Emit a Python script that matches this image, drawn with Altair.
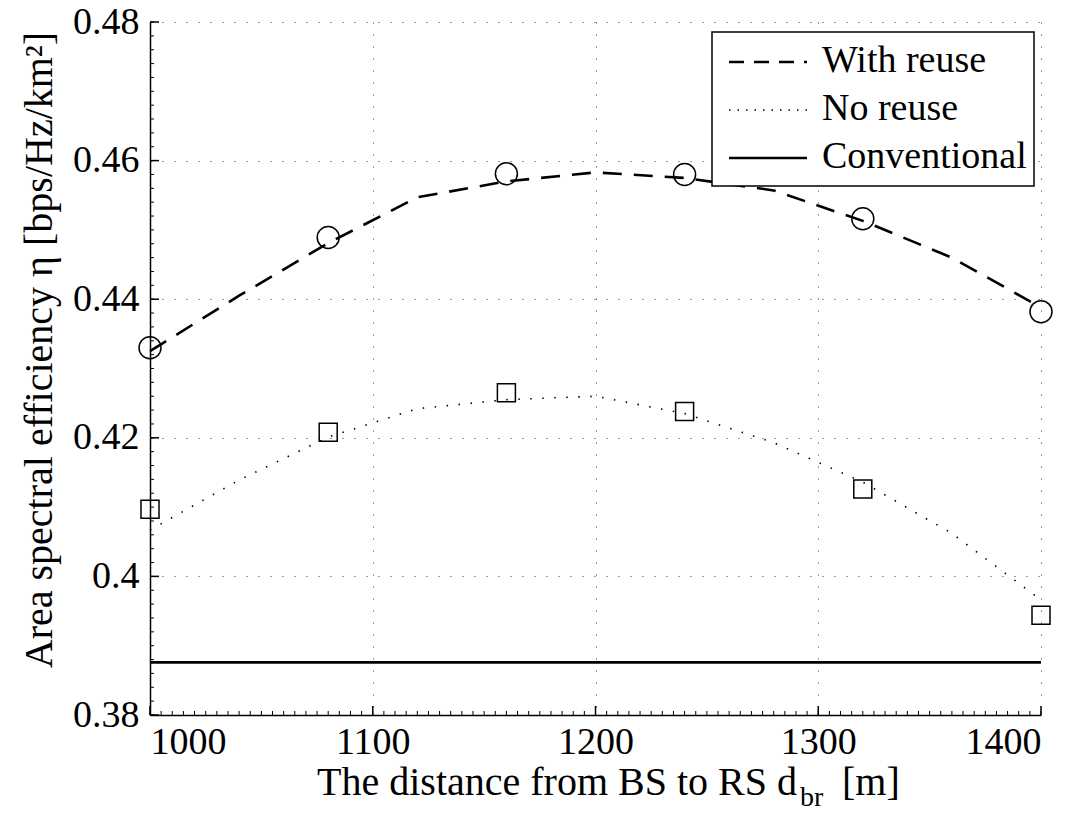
import altair as alt
import pandas as pd

# ---- data ----
curve_x = [1000, 1040, 1080, 1120, 1160, 1200, 1240, 1280, 1320, 1360, 1400]
with_reuse_curve = [0.4325, 0.4405, 0.4481, 0.4547, 0.4570, 0.4583, 0.4575, 0.4557, 0.4513, 0.4460, 0.4388]
no_reuse_curve = [0.4067, 0.4139, 0.4201, 0.4242, 0.4255, 0.4260, 0.4235, 0.4193, 0.4136, 0.4062, 0.3966]

marker_x = [1000, 1080, 1160, 1240, 1320, 1400]
with_reuse_markers = [0.4330, 0.4489, 0.4581, 0.4580, 0.4516, 0.4382]
no_reuse_markers = [0.4097, 0.4208, 0.4265, 0.4238, 0.4126, 0.3944]

conventional_x = [1000, 1400]
conventional_y = [0.3876, 0.3876]

x_ticks = [1000, 1100, 1200, 1300, 1400]
y_ticks = [0.38, 0.40, 0.42, 0.44, 0.46, 0.48]
x_minor = [1000 + 5 * i for i in range(81)]
y_minor = [round(0.38 + 0.002 * i, 4) for i in range(51)]

legend_labels = ["With reuse", "No reuse", "Conventional"]

FONT = "'Liberation Serif', 'Times New Roman', Times, 'DejaVu Serif', serif"
W, H = 891, 693

xs = alt.Scale(domain=[1000, 1400], nice=False, zero=False)
ys = alt.Scale(domain=[0.38, 0.48], nice=False, zero=False)

df_wr = pd.DataFrame({"x": curve_x, "y": with_reuse_curve})
df_nr = pd.DataFrame({"x": curve_x, "y": no_reuse_curve})
df_wrm = pd.DataFrame({"x": marker_x, "y": with_reuse_markers})
df_nrm = pd.DataFrame({"x": marker_x, "y": no_reuse_markers})
df_conv = pd.DataFrame({"x": conventional_x, "y": conventional_y})

X = alt.X("x:Q", scale=xs, axis=alt.Axis(values=x_ticks, format="d", title=None,
                                          grid=True, ticks=False, labelPadding=8))
Y = alt.Y("y:Q", scale=ys, axis=alt.Axis(values=y_ticks, format="~g", title=None,
                                          grid=True, ticks=False, labelPadding=11))

line_wr = alt.Chart(df_wr).mark_line(color="black", strokeWidth=2.6, strokeDash=[19, 12]).encode(x=X, y=Y)
line_nr = alt.Chart(df_nr).mark_line(color="black", strokeWidth=1.6, strokeDash=[1.5, 10.5]).encode(x=X, y=Y)
line_conv = alt.Chart(df_conv).mark_line(color="black", strokeWidth=2.6).encode(x=X, y=Y)

pts_wr = alt.Chart(df_wrm).mark_point(shape="circle", size=484, color="black", filled=False,
                                      strokeWidth=1.5, opacity=1).encode(x=X, y=Y)
pts_nr = alt.Chart(df_nrm).mark_point(shape="square", size=324, color="black", filled=False,
                                      strokeWidth=1.5, opacity=1).encode(x=X, y=Y)

# inward ticks (MATLAB style)
xt = alt.Chart(pd.DataFrame({"x": x_ticks})).mark_rule(color="black", strokeWidth=1.5).encode(
    x=alt.X("x:Q", scale=xs), y=alt.value(H), y2=alt.value(H - 9))
yt = alt.Chart(pd.DataFrame({"y": y_ticks})).mark_rule(color="black", strokeWidth=1.5).encode(
    y=alt.Y("y:Q", scale=ys), x=alt.value(0), x2=alt.value(9))
xm = alt.Chart(pd.DataFrame({"x": x_minor})).mark_rule(color="black", strokeWidth=1).encode(
    x=alt.X("x:Q", scale=xs), y=alt.value(H), y2=alt.value(H - 4))
ym = alt.Chart(pd.DataFrame({"y": y_minor})).mark_rule(color="black", strokeWidth=1).encode(
    y=alt.Y("y:Q", scale=ys), x=alt.value(0), x2=alt.value(4))

# axis titles
one = pd.DataFrame({"a": [0]})
xt1 = alt.Chart(one).mark_text(text="The distance from BS to RS d", font=FONT, fontSize=40,
                               align="right", baseline="alphabetic").encode(x=alt.value(647), y=alt.value(773))
xt2 = alt.Chart(one).mark_text(text="br", font=FONT, fontSize=28,
                               align="left", baseline="alphabetic").encode(x=alt.value(650), y=alt.value(784))
xt3 = alt.Chart(one).mark_text(text="[m]", font=FONT, fontSize=40,
                               align="left", baseline="alphabetic").encode(x=alt.value(692), y=alt.value(773))
ytitle = alt.Chart(one).mark_text(text="Area spectral efficiency η [bps/Hz/km²]", font=FONT, fontSize=40,
                                  angle=270, align="center", baseline="middle").encode(
    x=alt.value(-110), y=alt.value(328))

# legend
LX0, LX1, LY0, LY1 = 562, 884, 10, 164
leg_box = alt.Chart(one).mark_rect(fill="white", stroke="black", strokeWidth=1.5).encode(
    x=alt.value(LX0), x2=alt.value(LX1), y=alt.value(LY0), y2=alt.value(LY1))
rows = [40, 88, 136]
dashes = [[15, 10], [1.5, 7], None]
widths = [2.6, 1.6, 2.6]
leg_layers = []
for lab, ry, dsh, wd in zip(legend_labels, rows, dashes, widths):
    kw = dict(color="black", strokeWidth=wd)
    if dsh is not None:
        kw["strokeDash"] = dsh
    leg_layers.append(alt.Chart(pd.DataFrame({"label": [lab]})).mark_rule(**kw).encode(
        x=alt.value(579), x2=alt.value(657), y=alt.value(ry)))
    leg_layers.append(alt.Chart(pd.DataFrame({"label": [lab]})).mark_text(
        font=FONT, fontSize=38, align="left", baseline="middle").encode(
        text="label:N", x=alt.value(672), y=alt.value(ry - 1)))

chart = alt.layer(
    line_conv, line_nr, line_wr, pts_nr, pts_wr, xm, ym, xt, yt,
    xt1, xt2, xt3, ytitle, leg_box, *leg_layers
).properties(
    width=W, height=H,
    background="white",
    autosize=alt.AutoSizeParams(type="none"),
    padding={"left": 142, "top": 14, "right": 40, "bottom": 98},
).configure_axis(
    labelFont=FONT, labelFontSize=38, labelColor="black",
    domainColor="black", domainWidth=1.5,
    gridColor="black", gridDash=[1, 11], gridWidth=1, gridOpacity=0.8,
).configure_view(stroke=None)

chart.save("out.html", embed_options={"renderer": "svg", "actions": False})
